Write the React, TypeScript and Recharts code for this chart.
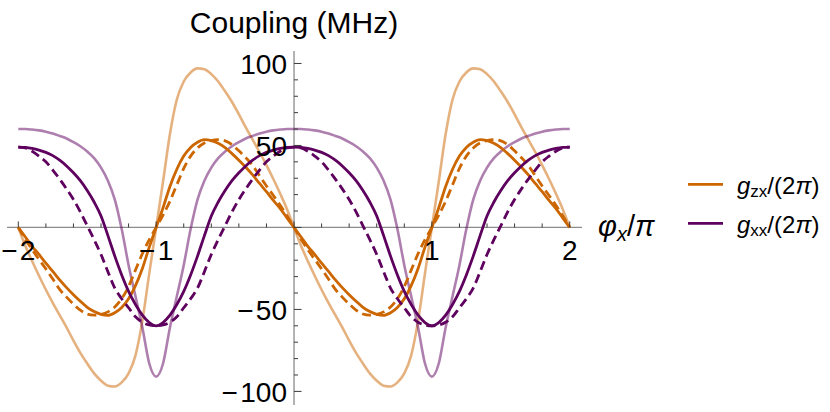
import React from 'react';
import { LineChart, Line, XAxis, YAxis, ReferenceLine } from 'recharts';

// flux phi_x / pi, sampled every 0.05
const phi = [
  -2, -1.95, -1.9, -1.85, -1.8, -1.75, -1.7, -1.65, -1.6, -1.55, -1.5, -1.45, -1.4, -1.35, -1.3, -1.25, -1.2, -1.15, -1.1, -1.05,
  -1, -0.95, -0.9, -0.85, -0.8, -0.75, -0.7, -0.65, -0.6, -0.55, -0.5, -0.45, -0.4, -0.35, -0.3, -0.25, -0.2, -0.15, -0.1, -0.05,
  0, 0.05, 0.1, 0.15, 0.2, 0.25, 0.3, 0.35, 0.4, 0.45, 0.5, 0.55, 0.6, 0.65, 0.7, 0.75, 0.8, 0.85, 0.9, 0.95,
  1, 1.05, 1.1, 1.15, 1.2, 1.25, 1.3, 1.35, 1.4, 1.45, 1.5, 1.55, 1.6, 1.65, 1.7, 1.75, 1.8, 1.85, 1.9, 1.95, 2,
];

// g_zx / 2pi (MHz)
const gzx = [
  0, -5.7, -11.5, -16.5, -21.8, -26.8, -32, -36.7, -41, -45, -48.7, -51.3, -53, -53.6, -52, -48.8, -43.5, -35.5, -25, -12,
  0, 12, 25, 35.5, 43.5, 48.8, 52, 53.6, 53, 51.3, 48.7, 45, 41, 36.7, 32, 26.8, 21.8, 16.5, 11.5, 5.7,
  0, -5.7, -11.5, -16.5, -21.8, -26.8, -32, -36.7, -41, -45, -48.7, -51.3, -53, -53.6, -52, -48.8, -43.5, -35.5, -25, -12,
  0, 12, 25, 35.5, 43.5, 48.8, 52, 53.6, 53, 51.3, 48.7, 45, 41, 36.7, 32, 26.8, 21.8, 16.5, 11.5, 5.7, 0,
];
const gzxDashed = [
  0, -7, -13.5, -19.5, -25.3, -31.5, -37.8, -42.5, -46.7, -50.5, -52.8, -53.5, -53, -51.5, -48.5, -43.5, -36, -26, -16, -7.5,
  0, 7.5, 16, 26, 36, 43.5, 48.5, 51.5, 53, 53.5, 52.8, 50.5, 46.7, 42.5, 37.8, 31.5, 25.3, 19.5, 13.5, 7,
  0, -7, -13.5, -19.5, -25.3, -31.5, -37.8, -42.5, -46.7, -50.5, -52.8, -53.5, -53, -51.5, -48.5, -43.5, -36, -26, -16, -7.5,
  0, 7.5, 16, 26, 36, 43.5, 48.5, 51.5, 53, 53.5, 52.8, 50.5, 46.7, 42.5, 37.8, 31.5, 25.3, 19.5, 13.5, 7, 0,
];
const gzxLight = [
  0, -11, -20.5, -29.5, -38, -46, -53.5, -61, -69, -76.5, -83, -89, -93.5, -96.5, -97, -94.5, -89, -78, -57, -28,
  0, 28, 57, 78, 89, 94.5, 97, 96.5, 93.5, 89, 83, 76.5, 69, 61, 53.5, 46, 38, 29.5, 20.5, 11,
  0, -11, -20.5, -29.5, -38, -46, -53.5, -61, -69, -76.5, -83, -89, -93.5, -96.5, -97, -94.5, -89, -78, -57, -28,
  0, 28, 57, 78, 89, 94.5, 97, 96.5, 93.5, 89, 83, 76.5, 69, 61, 53.5, 46, 38, 29.5, 20.5, 11, 0,
];

// g_xx / 2pi (MHz)
const gxx = [
  49, 48.8, 48.2, 47.2, 45.8, 43.8, 41, 37.5, 33.3, 28.5, 22.5, 15.5, 7, -5, -17.5, -29, -39, -47, -53.5, -58,
  -60, -58, -53.5, -47, -39, -29, -17.5, -5, 7, 15.5, 22.5, 28.5, 33.3, 37.5, 41, 43.8, 45.8, 47.2, 48.2, 48.8,
  49, 48.8, 48.2, 47.2, 45.8, 43.8, 41, 37.5, 33.3, 28.5, 22.5, 15.5, 7, -5, -17.5, -29, -39, -47, -53.5, -58,
  -60, -58, -53.5, -47, -39, -29, -17.5, -5, 7, 15.5, 22.5, 28.5, 33.3, 37.5, 41, 43.8, 45.8, 47.2, 48.2, 48.8, 49,
];
const gxxDashed = [
  49, 48.5, 46.5, 43.5, 40, 35, 29.5, 23.5, 17, 9.5, 1, -7.5, -16.5, -27, -37, -43.5, -49, -54.5, -57.8, -59.5,
  -60, -59.5, -57.8, -54.5, -49, -43.5, -37, -27, -16.5, -7.5, 1, 9.5, 17, 23.5, 29.5, 35, 40, 43.5, 46.5, 48.5,
  49, 48.5, 46.5, 43.5, 40, 35, 29.5, 23.5, 17, 9.5, 1, -7.5, -16.5, -27, -37, -43.5, -49, -54.5, -57.8, -59.5,
  -60, -59.5, -57.8, -54.5, -49, -43.5, -37, -27, -16.5, -7.5, 1, 9.5, 17, 23.5, 29.5, 35, 40, 43.5, 46.5, 48.5, 49,
];
const gxxLight = [
  60, 60, 59.7, 59.2, 58.4, 57.3, 55.8, 54.2, 52, 49.5, 46.3, 42.3, 36.5, 28.5, 17, -1, -23, -42, -61, -83,
  -91, -83, -61, -42, -23, -1, 17, 28.5, 36.5, 42.3, 46.3, 49.5, 52, 54.2, 55.8, 57.3, 58.4, 59.2, 59.7, 60,
  60, 60, 59.7, 59.2, 58.4, 57.3, 55.8, 54.2, 52, 49.5, 46.3, 42.3, 36.5, 28.5, 17, -1, -23, -42, -61, -83,
  -91, -83, -61, -42, -23, -1, 17, 28.5, 36.5, 42.3, 46.3, 49.5, 52, 54.2, 55.8, 57.3, 58.4, 59.2, 59.7, 60, 60,
];

const xTicks = [-2, -1.8, -1.6, -1.4, -1.2, -1, -0.8, -0.6, -0.4, -0.2, 0, 0.2, 0.4, 0.6, 0.8, 1, 1.2, 1.4, 1.6, 1.8, 2];
const yTicks = [-100, -90, -80, -70, -60, -50, -40, -30, -20, -10, 0, 10, 20, 30, 40, 50, 60, 70, 80, 90, 100];
const xLabels = [-2, -1, 1, 2];
const yLabels = [-100, -50, 50, 100];

const ORANGE = '#cc6600';
const PURPLE = '#5e005e';
const AXIS = '#8c8c8c';
const TICK = '#3a3a3a';
const FONT = '"Liberation Sans", Arial, Helvetica, sans-serif';

const W = 830;
const H = 412;
const margin = { top: 51, right: 248, bottom: 6, left: 6 };
const xDomain: [number, number] = [-2.082, 2.089];
const yDomain: [number, number] = [-108.3, 107.6];
// plot box is 7..582 by 51..405 once the 1px axes are taken off
const plotLeft = margin.left + 1;
const plotW = W - plotLeft - margin.right;
const plotH = H - margin.top - margin.bottom - 1;
const zeroX = plotLeft + (plotW * (0 - xDomain[0])) / (xDomain[1] - xDomain[0]);
const zeroY = margin.top + (plotH * yDomain[1]) / (yDomain[1] - yDomain[0]);

const data = phi.map((x, i) => ({
  x,
  gzx: gzx[i],
  gzxDashed: gzxDashed[i],
  gzxLight: gzxLight[i],
  gxx: gxx[i],
  gxxDashed: gxxDashed[i],
  gxxLight: gxxLight[i],
}));

const legendItems = [
  { sub: 'zx', color: ORANGE },
  { sub: 'xx', color: PURPLE },
];

const fmt = (v: number) => (v < 0 ? `\u2212\u200a${-v}` : `${v}`);

// ticks are drawn on the axes through the origin, Mathematica style
const XTick = (props: any) => {
  const { x, payload } = props;
  const v = payload.value;
  const major = Number.isInteger(v);
  return (
    <g>
      <line x1={x} x2={x} y1={zeroY} y2={zeroY - (major ? 6 : 4)} stroke={TICK} strokeWidth={1} />
      {xLabels.includes(v) && (
        <text x={x} y={zeroY + 33} textAnchor="middle" fontSize={28} fontFamily={FONT} fill="#000">
          {fmt(v)}
        </text>
      )}
    </g>
  );
};

const YTick = (props: any) => {
  const { y, payload } = props;
  const v = payload.value;
  const major = v % 50 === 0;
  return (
    <g>
      <line x1={zeroX} x2={zeroX + (major ? 7.5 : 4)} y1={y} y2={y} stroke={TICK} strokeWidth={1} />
      {yLabels.includes(v) && (
        <text x={zeroX - 7} y={y + 11} textAnchor="end" fontSize={28} fontFamily={FONT} fill="#000">
          {fmt(v)}
        </text>
      )}
    </g>
  );
};

export default function App() {
  return (
    <div style={{ position: 'absolute', left: 0, top: 0, width: W, height: H, background: '#fff' }}>
      <LineChart width={W} height={H} data={data} margin={margin}>
        <ReferenceLine y={0} stroke={AXIS} strokeWidth={1.3} />
        <ReferenceLine x={0} stroke={AXIS} strokeWidth={1.3} />
        <XAxis
          type="number"
          dataKey="x"
          domain={xDomain}
          allowDataOverflow
          ticks={xTicks}
          interval={0}
          height={1}
          axisLine={false}
          tickLine={false}
          tick={(p: any) => <XTick {...p} />}
        />
        <YAxis
          type="number"
          domain={yDomain}
          allowDataOverflow
          ticks={yTicks}
          interval={0}
          width={1}
          axisLine={false}
          tickLine={false}
          tick={(p: any) => <YTick {...p} />}
        />
        <Line type="monotone" dataKey="gzxLight" stroke={ORANGE} strokeOpacity={0.5} strokeWidth={2.6} dot={false} isAnimationActive={false} />
        <Line type="monotone" dataKey="gxxLight" stroke={PURPLE} strokeOpacity={0.5} strokeWidth={2.6} dot={false} isAnimationActive={false} />
        <Line type="monotone" dataKey="gzx" stroke={ORANGE} strokeWidth={2.8} dot={false} isAnimationActive={false} />
        <Line type="monotone" dataKey="gzxDashed" stroke={ORANGE} strokeWidth={2.8} strokeDasharray="9 5" dot={false} isAnimationActive={false} />
        <Line type="monotone" dataKey="gxx" stroke={PURPLE} strokeWidth={2.8} dot={false} isAnimationActive={false} />
        <Line type="monotone" dataKey="gxxDashed" stroke={PURPLE} strokeWidth={2.8} strokeDasharray="9 5" dot={false} isAnimationActive={false} />
      </LineChart>

      <svg width={W} height={H} style={{ position: 'absolute', left: 0, top: 0, pointerEvents: 'none' }} fontFamily={FONT}>
        <text x={zeroX} y={33} textAnchor="middle" fontSize={30} fill="#000">
          Coupling (MHz)
        </text>
        <text x={598} y={236} fontSize={29} fill="#000">
          <tspan fontStyle="italic">φ</tspan>
          <tspan fontSize={20} fontStyle="italic" dy={5}>x</tspan>
          <tspan dy={-5}>/</tspan>
          <tspan fontStyle="italic">π</tspan>
        </text>
        {legendItems.map((item, i) => {
          const ly = 184.3 + i * 39;
          return (
            <g key={item.sub}>
              <line x1={688} x2={723} y1={ly} y2={ly} stroke={item.color} strokeWidth={2.8} />
              <text x={737} y={ly + 10} fontSize={24} fill="#000">
                <tspan fontStyle="italic">g</tspan>
                <tspan fontSize={17} dy={3}>{item.sub}</tspan>
                <tspan dy={-3}>/(2</tspan>
                <tspan fontStyle="italic">π</tspan>
                <tspan>)</tspan>
              </text>
            </g>
          );
        })}
      </svg>
    </div>
  );
}
